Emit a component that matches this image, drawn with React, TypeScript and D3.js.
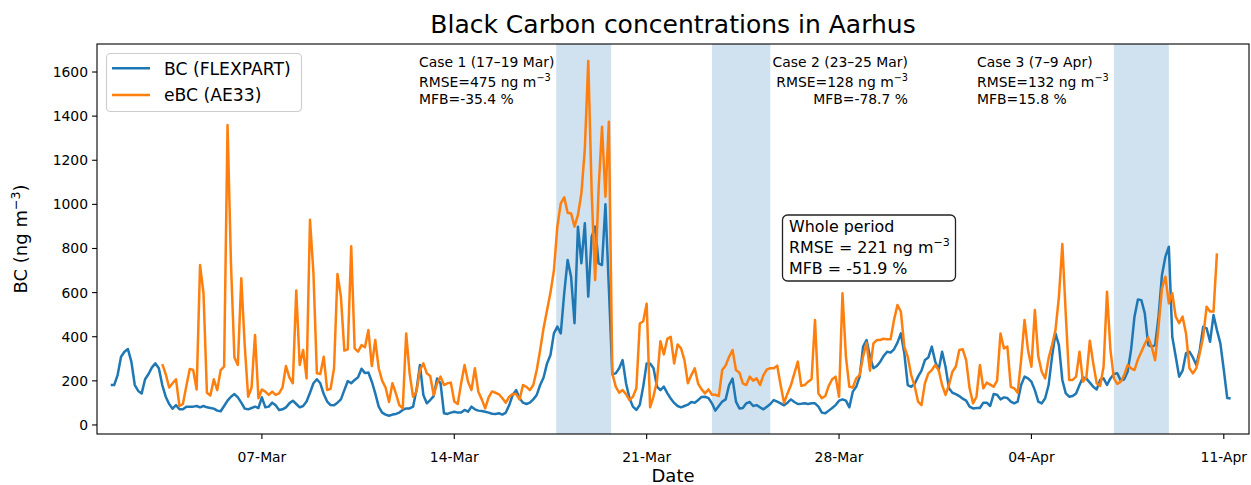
import React from "react";
import * as d3 from "d3";

// Black carbon time series, Aarhus (3-hourly values)

const t0 = Date.UTC(2023, 2, 1, 12); // first FLEXPART value
const stepHours = 3;
const obsStartIndex = 15; // AE33 series starts later

const bcFlexpart = [
  181, 181, 226, 309, 332, 344, 287, 181,
  154, 143, 207, 231, 261, 279, 257, 181,
  128, 95, 74, 90, 71, 71, 83, 83,
  83, 86, 80, 86, 80, 77, 74, 65,
  62, 86, 110, 128, 140, 125, 101, 74,
  71, 77, 83, 77, 125, 80, 83, 101,
  89, 68, 71, 80, 98, 110, 95, 80,
  86, 106, 146, 189, 207, 189, 140, 106,
  90, 89, 101, 116, 158, 199, 189, 204,
  216, 255, 235, 238, 196, 143, 83, 56,
  47, 42, 47, 50, 56, 68, 75, 75,
  83, 158, 272, 136, 98, 113, 131, 211,
  189, 53, 50, 56, 60, 56, 56, 68,
  60, 83, 71, 65, 63, 60, 56, 51,
  50, 53, 47, 56, 90, 136, 158, 121,
  101, 95, 101, 116, 136, 181, 215, 279,
  317, 415, 446, 415, 597, 748, 672, 461,
  899, 733, 914, 582, 854, 899, 733, 725,
  1000, 620, 230, 234, 257, 294, 189, 121,
  83, 68, 91, 174, 279, 279, 257, 174,
  158, 174, 144, 120, 100, 86, 80, 86,
  92, 104, 101, 113, 127, 128, 122, 98,
  65, 86, 106, 116, 181, 210, 106, 75,
  77, 98, 104, 86, 90, 80, 71, 83,
  95, 113, 106, 98, 89, 101, 116, 104,
  95, 96, 98, 95, 98, 98, 83, 56,
  53, 65, 77, 90, 110, 116, 110, 80,
  151, 173, 219, 355, 385, 310, 257, 267,
  287, 313, 332, 328, 343, 373, 415, 325,
  181, 173, 186, 219, 246, 294, 306, 355,
  287, 249, 332, 264, 166, 146, 140, 131,
  119, 110, 83, 75, 77, 77, 101, 101,
  86, 140, 137, 116, 125, 122, 106, 98,
  106, 181, 219, 211, 196, 158, 106, 98,
  121, 181, 310, 415, 362, 204, 143, 128,
  131, 143, 181, 216, 210, 192, 173, 161,
  204, 211, 181, 211, 231, 234, 201, 207,
  241, 340, 491, 569, 566, 506, 362, 355,
  362, 491, 680, 763, 808, 400, 310, 219,
  246, 325, 332, 306, 272, 340, 445, 438,
  377, 498, 430, 370, 249, 122, 120,
];

const ebcAe33 = [
  276, 231, 170, 189, 207, 86, 95, 176,
  254, 249, 161, 725, 597, 146, 134, 207,
  158, 249, 264, 1360, 730, 306, 272, 665,
  360, 128, 170, 408, 121, 161, 151, 136,
  151, 136, 143, 170, 267, 216, 189, 609,
  272, 340, 211, 930, 690, 234, 231, 309,
  158, 164, 257, 684, 581, 337, 343, 810,
  347, 332, 362, 352, 430, 267, 385, 257,
  201, 170, 104, 189, 143, 90, 75, 415,
  234, 128, 151, 249, 279, 234, 222, 136,
  189, 219, 181, 189, 192, 106, 95, 189,
  272, 196, 158, 257, 151, 116, 75, 125,
  152, 146, 139, 121, 101, 128, 140, 140,
  116, 181, 173, 158, 181, 249, 340, 440,
  520, 600, 700, 899, 1005, 1032, 962, 959,
  899, 952, 1050, 1250, 1650, 1050, 657, 1065,
  1352, 1035, 1375, 234, 174, 146, 158, 140,
  113, 128, 166, 460, 470, 550, 80, 130,
  200, 380, 320, 390, 400, 279, 365, 347,
  294, 189, 226, 257, 186, 161, 143, 161,
  137, 137, 131, 249, 270, 309, 340, 249,
  237, 189, 181, 219, 201, 211, 181, 226,
  252, 257, 257, 269, 180, 100, 143, 181,
  234, 287, 177, 181, 196, 207, 476, 143,
  121, 131, 177, 207, 219, 128, 597, 310,
  173, 170, 211, 226, 310, 373, 246, 370,
  385, 385, 391, 388, 388, 476, 544, 513,
  355, 309, 226, 177, 106, 90, 189, 234,
  249, 272, 249, 181, 136, 181, 241, 265,
  340, 343, 294, 166, 98, 128, 272, 166,
  192, 183, 173, 201, 415, 347, 355, 173,
  166, 146, 294, 476, 340, 264, 521, 310,
  241, 211, 302, 362, 430, 581, 820, 500,
  204, 204, 219, 332, 196, 216, 382, 279,
  189, 177, 264, 604, 340, 211, 186, 196,
  226, 272, 257, 249, 297, 332, 367, 397,
  355, 294, 445, 619, 672, 551, 597, 491,
  461, 491, 415, 257, 234, 257, 325, 400,
  536, 514, 514, 778,
];

const caseStarts = [Date.UTC(2023, 2, 17, 17), Date.UTC(2023, 2, 23, 9), Date.UTC(2023, 3, 7, 0)];
const caseEnds = [Date.UTC(2023, 2, 19, 17), Date.UTC(2023, 2, 25, 12), Date.UTC(2023, 3, 9, 0)];
const caseNames = ["Case 1 (17\u201319 Mar)", "Case 2 (23\u201325 Mar)", "Case 3 (7\u20139 Apr)"];
const caseRmse = [475, 128, 132];
const caseMfb = ["-35.4", "-78.7", "15.8"];
const wholeRmse = 221;
const wholeMfb = "-51.9";

const xTicks = [
  Date.UTC(2023, 2, 7), Date.UTC(2023, 2, 14), Date.UTC(2023, 2, 21),
  Date.UTC(2023, 2, 28), Date.UTC(2023, 3, 4), Date.UTC(2023, 3, 11),
];
const yTicks = [0, 200, 400, 600, 800, 1000, 1200, 1400, 1600];
const seriesNames = ["BC (FLEXPART)", "eBC (AE33)"];

const BLUE = "#1f77b4";
const ORANGE = "#ff7f0e";
const FONT = "DejaVu Sans";

const margin = { left: 97, right: 1249, top: 44, bottom: 434 };

const Sup = ({ size }) => (
  <tspan dy={-size * 0.38} fontSize={size * 0.7}>{"\u22123"}</tspan>
);

export default function App() {
  const x = d3.scaleUtc()
    .domain([Date.UTC(2023, 2, 1, 0), Date.UTC(2023, 3, 11, 22)])
    .range([margin.left, margin.right]);
  const y = d3.scaleLinear().domain([-41, 1727]).range([margin.bottom, margin.top]);
  const fmt = d3.utcFormat("%d-%b");
  const ms = stepHours * 3600 * 1000;

  const bcLine = d3.line<number>()
    .x((d, i) => x(t0 + i * ms))
    .y((d) => y(d));
  const ebcLine = d3.line<number>()
    .x((d, i) => x(t0 + (i + obsStartIndex) * ms))
    .y((d) => y(d));

  const annX = [419, 908, 977];
  const annAnchor = ["start", "end", "start"];
  const fs = 13.9;
  const boxFs = 15.9;
  const legFs = 17.2;
  const labFs = 18;

  return (
    <svg width={1251} height={485} style={{ position: "absolute", left: 0, top: 0, background: "#fff" }}
      fontFamily={FONT}>
      <rect x={0} y={0} width={1251} height={485} fill="#fff" />

      {/* case bands */}
      {caseStarts.map((s, i) => (
        <rect key={i} x={x(s)} y={margin.top} width={x(caseEnds[i]) - x(s)}
          height={margin.bottom - margin.top} fill={BLUE} fillOpacity={0.21} />
      ))}

      <path d={bcLine(bcFlexpart)} fill="none" stroke={BLUE} strokeWidth={2.5} strokeLinejoin="round" />
      <path d={ebcLine(ebcAe33)} fill="none" stroke={ORANGE} strokeWidth={2.5} strokeLinejoin="round" />

      {/* axes frame */}
      <rect x={margin.left} y={margin.top} width={margin.right - margin.left}
        height={margin.bottom - margin.top} fill="none" stroke="#000" strokeWidth={1.1} />

      {xTicks.map((t) => (
        <g key={t}>
          <line x1={x(t)} x2={x(t)} y1={margin.bottom} y2={margin.bottom + 4.9} stroke="#000" strokeWidth={1.1} />
          <text x={x(t)} y={461.5} textAnchor="middle" fontSize={fs}>{fmt(new Date(t))}</text>
        </g>
      ))}
      {yTicks.map((v) => (
        <g key={v}>
          <line x1={margin.left - 4.9} x2={margin.left} y1={y(v)} y2={y(v)} stroke="#000" strokeWidth={1.1} />
          <text x={88} y={y(v) + 5} textAnchor="end" fontSize={fs}>{v}</text>
        </g>
      ))}

      {/* title and axis labels */}
      <text x={(margin.left + margin.right) / 2} y={33} textAnchor="middle" fontSize={25}>
        Black Carbon concentrations in Aarhus
      </text>
      <text x={(margin.left + margin.right) / 2} y={482} textAnchor="middle" fontSize={labFs}>Date</text>
      <text transform={`translate(27, ${(margin.top + margin.bottom) / 2}) rotate(-90)`} textAnchor="middle" fontSize={labFs}>
        BC (ng m<Sup size={labFs} /><tspan dy={labFs * 0.38}>)</tspan>
      </text>

      {/* case annotations */}
      {caseNames.map((name, i) => (
        <g key={name} fontSize={fs} textAnchor={annAnchor[i]}>
          <text x={annX[i]} y={66.7}>{name}</text>
          <text x={annX[i]} y={86.5}>RMSE={caseRmse[i]} ng m<Sup size={fs} /></text>
          <text x={annX[i]} y={104}>MFB={caseMfb[i]} %</text>
        </g>
      ))}

      {/* whole period box */}
      <rect x={782.5} y={215} width={173} height={66} rx={5} fill="#fff" stroke="#222" strokeWidth={1.3} />
      <g fontSize={boxFs}>
        <text x={789} y={232}>Whole period</text>
        <text x={789} y={252.5}>RMSE = {wholeRmse} ng m<Sup size={boxFs} /></text>
        <text x={789} y={273.5}>MFB = {wholeMfb} %</text>
      </g>

      {/* legend */}
      <rect x={106.5} y={53.5} width={195} height={58} rx={4} fill="#fff" fillOpacity={0.8} stroke="#ccc" strokeWidth={1.1} />
      {seriesNames.map((n, i) => (
        <g key={n}>
          <line x1={112} x2={150} y1={68.3 + i * 26.7} y2={68.3 + i * 26.7}
            stroke={i === 0 ? BLUE : ORANGE} strokeWidth={2.5} />
          <text x={164} y={74.5 + i * 26.7} fontSize={legFs}>{n}</text>
        </g>
      ))}
    </svg>
  );
}
